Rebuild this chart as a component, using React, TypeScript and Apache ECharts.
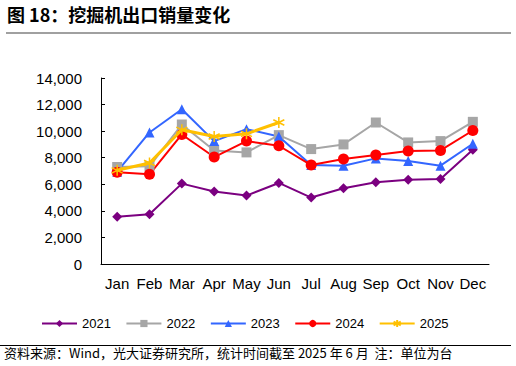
import React, { useEffect, useRef } from "react";
import * as echarts from "echarts";

const months = ["Jan", "Feb", "Mar", "Apr", "May", "Jun", "Jul", "Aug", "Sep", "Oct", "Nov", "Dec"];
const y2021 = [3550, 3750, 6050, 5450, 5150, 6100, 5000, 5700, 6150, 6350, 6400, 8600];
const y2022 = [7300, 7350, 10500, 8550, 8400, 9700, 8650, 9000, 10650, 9150, 9250, 10700];
const y2023 = [6950, 9900, 11650, 9250, 10150, 9600, 7450, 7400, 7950, 7750, 7400, 9050];
const y2024 = [6900, 6750, 9750, 8050, 9250, 8900, 7450, 7900, 8200, 8500, 8550, 10050];
const y2025 = [7050, 7600, 10100, 9600, 9800, 10650];
const yTicks = { min: 0, max: 14000, interval: 2000 };

const asterisk = "path://M0,-5L0,5M-4.33,-2.5L4.33,2.5M-4.33,2.5L4.33,-2.5";

export default function App() {
  const ref = useRef<HTMLDivElement>(null);
  useEffect(() => {
    const chart = echarts.init(ref.current!, null, { renderer: "svg" });
    const latin = "Liberation Sans, Arial, sans-serif";
    const cjk = "'Noto Sans CJK SC', sans-serif";
    const mk = (name: string, data: number[], color: string, symbol: string, size: number, width: number) => ({
      name,
      type: "line",
      data,
      symbol,
      symbolSize: size,
      lineStyle: { color, width },
      itemStyle: symbol === asterisk ? { color, borderColor: color, borderWidth: 1.5 } : { color },
      z: 2,
    });
    chart.setOption({
      animation: false,
      backgroundColor: "#fff",
      grid: { left: 101, right: 27, top: 78, bottom: 102 },
      legend: {
        left: 41,
        top: 317,
        padding: 0,
        itemWidth: 35,
        itemHeight: 9,
        itemGap: 14.5,
        textStyle: { fontFamily: latin, fontSize: 13, color: "#000" },
        data: ["2021", "2022", "2023", "2024", "2025"],
      },
      xAxis: {
        type: "category",
        data: months,
        boundaryGap: true,
        axisLine: { lineStyle: { color: "#000", width: 1 } },
        axisTick: { inside: true, length: 3, lineStyle: { color: "#555" } },
        axisLabel: { fontFamily: latin, fontSize: 15, color: "#000", margin: 12, interval: 0 },
      },
      yAxis: {
        type: "value",
        min: yTicks.min,
        max: yTicks.max,
        interval: yTicks.interval,
        splitLine: { show: false },
        axisLine: { show: true, lineStyle: { color: "#000", width: 1 } },
        axisTick: { show: true, inside: true, length: 4, lineStyle: { color: "#000" } },
        axisLabel: {
          fontFamily: latin,
          fontSize: 15,
          color: "#000",
          margin: 19,
          formatter: (v: number) => v.toLocaleString("en-US"),
        },
      },
      series: [
        mk("2021", y2021, "#7B0080", "diamond", 10, 2),
        mk("2022", y2022, "#A6A6A6", "rect", 10, 2),
        mk("2023", y2023, "#3366FF", "triangle", 10, 2),
        mk("2024", y2024, "#FF0000", "circle", 11, 2),
        { ...mk("2025", y2025, "#FFC000", asterisk, 11, 3), z: 3 },
      ],
      graphic: [
        {
          type: "text",
          left: 7,
          top: 5,
          style: { text: "图 18：挖掘机出口销量变化", font: `bold 18px ${cjk}`, fill: "#000" },
        },
        {
          type: "line",
          shape: { x1: 6, y1: 33, x2: 511, y2: 33 },
          style: { stroke: "#808080", lineWidth: 1.5 },
        },
        {
          type: "line",
          shape: { x1: 0, y1: 345.5, x2: 511, y2: 345.5 },
          style: { stroke: "#000", lineWidth: 1 },
        },
        {
          type: "text",
          left: 4,
          top: 346,
          style: {
            text: "资料来源：Wind，光大证券研究所，统计时间截至 2025 年 6 月  注：单位为台",
            font: `13px ${cjk}`,
            fill: "#000",
          },
        },
      ],
    });
    return () => chart.dispose();
  }, []);
  return <div ref={ref} style={{ width: 516, height: 366, position: "absolute", left: 0, top: 0 }} />;
}
